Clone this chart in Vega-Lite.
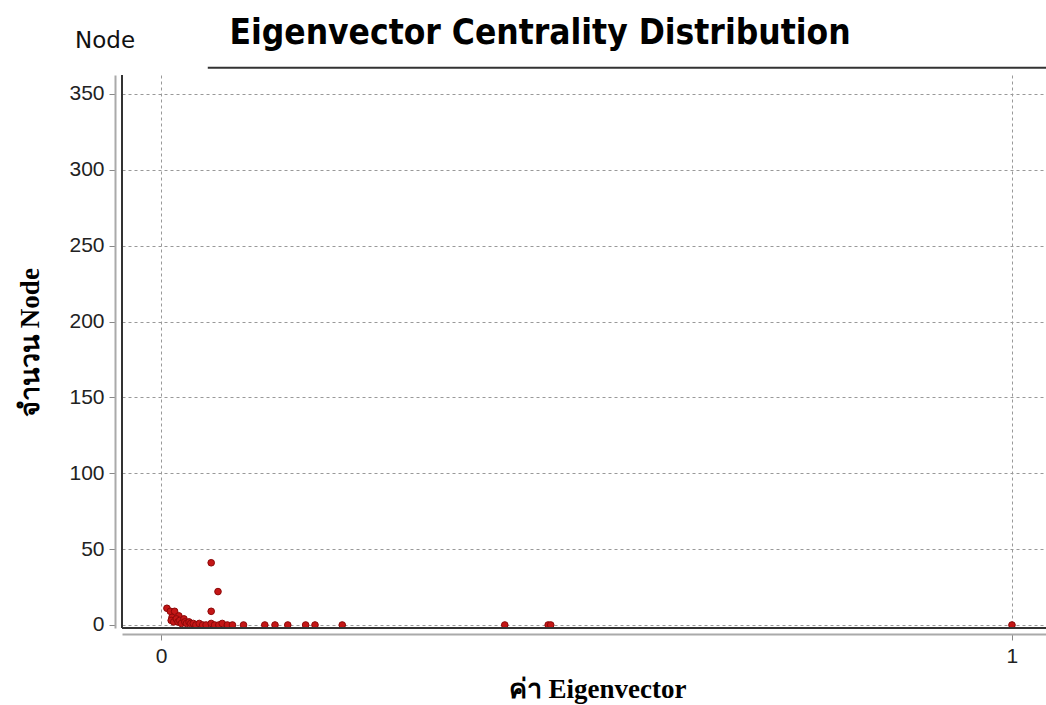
{
  "$schema": "https://vega.github.io/schema/vega-lite/v6.json",
  "width": 924,
  "height": 553,
  "autosize": "none",
  "padding": {"left": 122, "top": 75, "right": 0, "bottom": 77},
  "background": "white",
  "title": {
    "text": "Eigenvector Centrality Distribution",
    "font": "Liberation Sans Narrow, DejaVu Sans Condensed",
    "fontSize": 35,
    "fontWeight": "bold",
    "color": "#000000",
    "anchor": "middle",
    "dx": -44,
    "dy": 45,
    "offset": 24
  },
  "config": {
    "view": {"stroke": null},
    "axis": {
      "gridDash": [3, 3],
      "gridColor": "#999999",
      "gridWidth": 1,
      "domainColor": "#aaaaaa",
      "domainWidth": 2,
      "tickColor": "#888888",
      "tickSize": 6,
      "labelFont": "Liberation Sans",
      "labelFontSize": 21,
      "labelColor": "#222222",
      "titleFont": "Liberation Serif",
      "titleFontSize": 27,
      "titleFontWeight": "bold",
      "titleColor": "#000000"
    }
  },
  "layer": [
    {
      "data": {
        "values": [
          {"x": 0.007, "n": 11}, {"x": 0.011, "n": 9}, {"x": 0.016, "n": 9},
          {"x": 0.013, "n": 5}, {"x": 0.021, "n": 6}, {"x": 0.012, "n": 3},
          {"x": 0.015, "n": 2}, {"x": 0.018, "n": 4}, {"x": 0.020, "n": 2},
          {"x": 0.022, "n": 3}, {"x": 0.024, "n": 1}, {"x": 0.027, "n": 4},
          {"x": 0.028, "n": 2}, {"x": 0.030, "n": 1}, {"x": 0.033, "n": 2},
          {"x": 0.035, "n": 1}, {"x": 0.038, "n": 1}, {"x": 0.041, "n": 0},
          {"x": 0.045, "n": 1}, {"x": 0.049, "n": 0}, {"x": 0.053, "n": 0},
          {"x": 0.059, "n": 1}, {"x": 0.059, "n": 9}, {"x": 0.059, "n": 41},
          {"x": 0.067, "n": 22}, {"x": 0.063, "n": 0}, {"x": 0.068, "n": 0},
          {"x": 0.072, "n": 1}, {"x": 0.078, "n": 0}, {"x": 0.084, "n": 0},
          {"x": 0.097, "n": 0}, {"x": 0.122, "n": 0}, {"x": 0.134, "n": 0},
          {"x": 0.149, "n": 0}, {"x": 0.170, "n": 0}, {"x": 0.181, "n": 0},
          {"x": 0.213, "n": 0}, {"x": 0.404, "n": 0}, {"x": 0.455, "n": 0},
          {"x": 0.458, "n": 0}, {"x": 1.0, "n": 0}
        ]
      },
      "mark": {"type": "point", "filled": true, "shape": "circle", "size": 44, "color": "#c41616", "stroke": "#8c0808", "strokeWidth": 1, "opacity": 1},
      "encoding": {
        "x": {
          "field": "x",
          "type": "quantitative",
          "scale": {"domain": [-0.0458, 1.04], "nice": false, "zero": false},
          "axis": {
            "values": [0, 1],
            "format": "d",
            "title": "ค่า Eigenvector",
            "offset": 6,
            "labelPadding": 5,
            "titleX": 475,
            "titleY": 63,
            "titleBaseline": "alphabetic",
            "titleAnchor": "middle"
          }
        },
        "y": {
          "field": "n",
          "type": "quantitative",
          "scale": {"domain": [-2, 362.5], "nice": false, "zero": false},
          "axis": {
            "values": [0, 50, 100, 150, 200, 250, 300, 350],
            "format": "d",
            "title": "จำนวน Node",
            "offset": 7,
            "labelPadding": 5,
            "titleX": -85,
            "titleY": 267,
            "titleBaseline": "middle",
            "titleAnchor": "middle"
          }
        }
      }
    },
    {
      "data": {"values": [{}]},
      "mark": {"type": "rule", "color": "#333333", "strokeWidth": 2},
      "encoding": {"x": {"datum": -0.0458, "scale": {"domain": [-0.0458, 1.04], "nice": false, "zero": false}}}
    },
    {
      "data": {"values": [{}]},
      "mark": {"type": "rule", "color": "#333333", "strokeWidth": 2},
      "encoding": {"y": {"datum": -2, "scale": {"domain": [-2, 362.5], "nice": false, "zero": false}}}
    },
    {
      "data": {"values": [{}]},
      "mark": {"type": "rule", "color": "#333333", "strokeWidth": 2},
      "encoding": {
        "x": {"datum": 0.055},
        "x2": {"datum": 1.04},
        "y": {"datum": 367.2}
      }
    },
    {
      "data": {"values": [{}]},
      "mark": {"type": "text", "text": "Node", "font": "DejaVu Sans", "fontSize": 23, "color": "#111111", "align": "left", "baseline": "alphabetic"},
      "encoding": {
        "x": {"datum": -0.101},
        "y": {"datum": 380}
      }
    }
  ]
}
